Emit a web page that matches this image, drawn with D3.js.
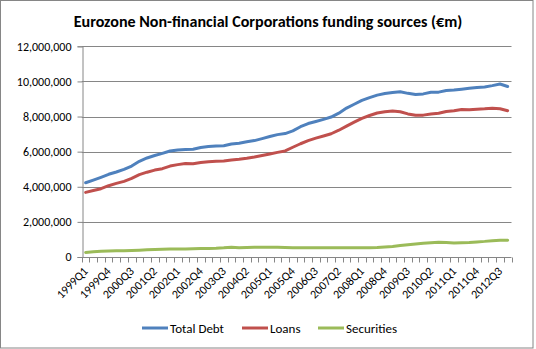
<!DOCTYPE html>
<html><head><meta charset="utf-8">
<script src="https://cdn.jsdelivr.net/npm/d3@7"></script>
<style>body{margin:0;background:#fff}svg{display:block}</style>
</head><body>
<script>
const quarters = [
"1999Q1","1999Q2","1999Q3","1999Q4","2000Q1","2000Q2","2000Q3","2000Q4",
"2001Q1","2001Q2","2001Q3","2001Q4","2002Q1","2002Q2","2002Q3","2002Q4",
"2003Q1","2003Q2","2003Q3","2003Q4","2004Q1","2004Q2","2004Q3","2004Q4",
"2005Q1","2005Q2","2005Q3","2005Q4","2006Q1","2006Q2","2006Q3","2006Q4",
"2007Q1","2007Q2","2007Q3","2007Q4","2008Q1","2008Q2","2008Q3","2008Q4",
"2009Q1","2009Q2","2009Q3","2009Q4","2010Q1","2010Q2","2010Q3","2010Q4",
"2011Q1","2011Q2","2011Q3","2011Q4","2012Q1","2012Q2","2012Q3","2012Q4"];

const totalDebt = [
4230000,4380000,4540000,4710000,4840000,4990000,5180000,5450000,
5640000,5780000,5900000,6040000,6100000,6120000,6140000,6240000,
6290000,6320000,6340000,6440000,6480000,6560000,6630000,6740000,
6860000,6970000,7030000,7180000,7420000,7600000,7720000,7840000,
7970000,8190000,8480000,8700000,8920000,9080000,9220000,9310000,
9370000,9410000,9320000,9250000,9290000,9380000,9390000,9480000,
9510000,9560000,9610000,9660000,9680000,9760000,9850000,9710000];

const loans = [
3680000,3790000,3890000,4060000,4190000,4310000,4480000,4690000,
4830000,4950000,5030000,5180000,5260000,5330000,5310000,5380000,
5430000,5460000,5470000,5530000,5570000,5630000,5700000,5780000,
5870000,5960000,6040000,6250000,6450000,6630000,6770000,6890000,
7020000,7220000,7450000,7680000,7900000,8060000,8200000,8270000,
8310000,8270000,8150000,8070000,8080000,8140000,8190000,8290000,
8330000,8400000,8380000,8420000,8440000,8470000,8440000,8330000];

const securities = [
260000,300000,330000,340000,350000,350000,370000,390000,
410000,430000,440000,450000,460000,460000,470000,480000,
490000,500000,520000,550000,520000,540000,550000,550000,
550000,550000,540000,530000,530000,530000,530000,530000,
530000,530000,530000,530000,530000,530000,540000,570000,
600000,650000,700000,740000,780000,810000,840000,820000,
800000,810000,820000,860000,890000,930000,960000,950000];

const yTicks = [0,2000000,4000000,6000000,8000000,10000000,12000000];
const seriesNames = ["Total Debt","Loans","Securities"];
const seriesColors = ["#4F81BD","#C0504D","#9BBB59"];
const titleText = "Eurozone Non-financial Corporations funding sources (\u20ACm)";

const W = 536, H = 349;
const FONT = "Carlito, Lato, 'Open Sans', sans-serif";
const svg = d3.select("body").append("svg").attr("width", W).attr("height", H)
  .style("font-family", FONT);

svg.append("rect").attr("x",0.5).attr("y",0.5).attr("width",532.5).attr("height",347.5)
  .attr("fill","#fff").attr("stroke","#868686").attr("stroke-width",1);

const plot = {left:81.8, right:511.5, top:46.3, bottom:257};
const x = d3.scaleBand().domain(quarters).range([plot.left, plot.right]).padding(0);
const y = d3.scaleLinear().domain([0,12000000]).range([plot.bottom, plot.top]);
const cx = q => x(q) + x.bandwidth()/2;

// title
const title = svg.append("text").attr("x", 268).attr("y", 27).attr("text-anchor","middle")
  .attr("font-weight","bold").attr("font-size",14).attr("fill","#000").text(titleText);
const tw = title.node().getComputedTextLength();
title.attr("font-size", 14 * 389 / tw);

// gridlines
const gridColor = "#868686";
svg.append("g").selectAll("line").data(yTicks.filter(d=>d>0)).join("line")
  .attr("x1", plot.left).attr("x2", plot.right)
  .attr("y1", d=>Math.round(y(d))+0.5).attr("y2", d=>Math.round(y(d))+0.5)
  .attr("stroke", gridColor).attr("stroke-width",1);

// y axis
const yAxis = d3.axisLeft(y).tickValues(yTicks).tickFormat(d3.format(",")).tickSize(5).tickPadding(6);
const gy = svg.append("g").attr("transform",`translate(${Math.round(plot.left)+0.5},0)`).call(yAxis);
gy.select(".domain").attr("stroke", gridColor);
gy.selectAll(".tick line").attr("stroke", gridColor);
gy.selectAll(".tick text").attr("font-size", 12).attr("fill","#000").style("font-family", FONT);

// x axis
const gx = svg.append("g").attr("transform",`translate(0,${Math.round(plot.bottom)+0.5})`);
gx.append("line").attr("x1",plot.left).attr("x2",plot.right).attr("stroke",gridColor);
const bounds = quarters.map(q=>x(q)).concat([plot.right]);
gx.selectAll("line.tk").data(bounds).join("line").attr("class","tk")
  .attr("x1",d=>Math.round(d)+0.5).attr("x2",d=>Math.round(d)+0.5)
  .attr("y1",0).attr("y2",5).attr("stroke",gridColor);
svg.append("g").selectAll("text").data(quarters.filter((q,i)=>i%3===0)).join("text")
  .attr("transform", q=>`translate(${cx(q)+3},${272}) rotate(-45)`)
  .attr("text-anchor","end").attr("font-size",12).attr("fill","#000").text(q=>q);

// lines
const seriesData = [totalDebt, loans, securities];
const line = d3.line().x((d,i)=>cx(quarters[i])).y(d=>y(d));
svg.append("g").selectAll("path").data(seriesData).join("path")
  .attr("d", d=>line(d)).attr("fill","none")
  .attr("stroke",(d,i)=>seriesColors[i]).attr("stroke-width",3)
  .attr("stroke-linejoin","round").attr("stroke-linecap","round");

// legend
const legX = [142, 242, 318];
const lg = svg.append("g").selectAll("g").data(seriesNames).join("g")
  .attr("transform",(d,i)=>`translate(${legX[i]},328)`);
lg.append("line").attr("x1",0).attr("x2",26).attr("y1",0).attr("y2",0)
  .attr("stroke",(d,i)=>seriesColors[i]).attr("stroke-width",3);
lg.append("text").attr("x",28).attr("y",4.5).attr("font-size",13).attr("fill","#000").text(d=>d);
</script>
</body></html>
